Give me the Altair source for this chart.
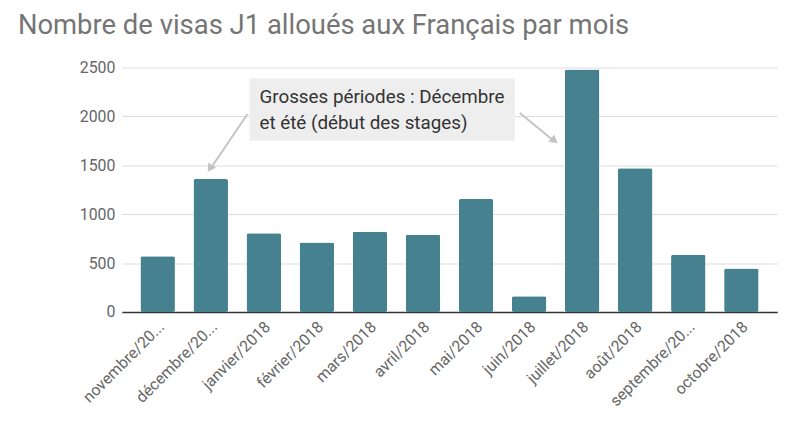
import altair as alt
import pandas as pd

months = ["novembre/2017", "décembre/2017", "janvier/2018", "février/2018", "mars/2018",
          "avril/2018", "mai/2018", "juin/2018", "juillet/2018", "août/2018",
          "septembre/2018", "octobre/2018"]
visas = [570, 1360, 805, 710, 820, 790, 1155, 160, 2480, 1470, 585, 445]
y_ticks = [0, 500, 1000, 1500, 2000, 2500]

title = "Nombre de visas J1 alloués aux Français par mois"
note_lines = ["Grosses périodes : Décembre", "et été (début des stages)"]

df = pd.DataFrame({"mois": months, "visas": visas})
one = pd.DataFrame({"k": [0]})

W, H = 662, 247
GREY_TXT = "#757575"
ARROW = "#c4c4c4"

bars = alt.Chart(df).mark_bar(color="#45818e", cornerRadius=2).encode(
    x=alt.X("mois:N", sort=months, title=None,
            scale=alt.Scale(paddingInner=0.35, paddingOuter=0.35),
            axis=alt.Axis(labelAngle=-45, labelAlign="right", labelBaseline="middle",
                          labelExpr="length(datum.label) > 12 ? slice(datum.label, 0, -2) + '...' : datum.label",
                          labelPadding=12, labelOffset=4, labelLimit=200, ticks=False, grid=False,
                          domainColor="#333333", domainWidth=1.5,
                          labelFontSize=16, labelColor="#666666", labelFont="Roboto")),
    y=alt.Y("visas:Q", title=None, scale=alt.Scale(domain=[0, 2500], nice=False),
            axis=alt.Axis(values=y_ticks, format="d", domain=False, ticks=False, labelPadding=7,
                          gridColor="#dddddd", labelFontSize=16, labelColor="#666666",
                          labelFont="Roboto")),
)

box = alt.Chart(one).mark_rect(color="#eeeeee").encode(
    x=alt.value(129), x2=alt.value(397), y=alt.value(11), y2=alt.value(74))

txt1 = alt.Chart(one).mark_text(align="left", baseline="alphabetic", fontSize=19,
                                font="Roboto", fontWeight="normal", color="#333333").encode(
    x=alt.value(139), y=alt.value(36), text=alt.value(note_lines[0]))
txt2 = alt.Chart(one).mark_text(align="left", baseline="alphabetic", fontSize=19,
                                font="Roboto", fontWeight="normal", color="#333333").encode(
    x=alt.value(139), y=alt.value(62), text=alt.value(note_lines[1]))

arr1 = alt.Chart(one).mark_rule(color=ARROW, strokeWidth=2).encode(
    x=alt.value(127), y=alt.value(47), x2=alt.value(91), y2=alt.value(100))
arr2 = alt.Chart(one).mark_rule(color=ARROW, strokeWidth=2).encode(
    x=alt.value(402), y=alt.value(46), x2=alt.value(435), y2=alt.value(73))
head1 = alt.Chart(one).mark_point(shape="triangle-up", filled=True, color=ARROW,
                                  size=90, opacity=1, angle=214).encode(
    x=alt.value(89), y=alt.value(102))
head2 = alt.Chart(one).mark_point(shape="triangle-up", filled=True, color=ARROW,
                                  size=90, opacity=1, angle=129).encode(
    x=alt.value(437), y=alt.value(74))

chart = alt.layer(bars, box, txt1, txt2, arr1, arr2, head1, head2).properties(
    width=W, height=H,
    autosize=alt.AutoSizeParams(type="none"),
    padding={"left": 115, "top": 58, "right": 19, "bottom": 108},
    title=alt.TitleParams(title, anchor="start", frame="group", dx=-105, dy=33, offset=31,
                          baseline="alphabetic", fontSize=27.7, font="Roboto",
                          fontWeight="normal", color=GREY_TXT),
).configure_view(stroke=None)

chart.save("out.html", embed_options={"renderer": "svg", "actions": False})
